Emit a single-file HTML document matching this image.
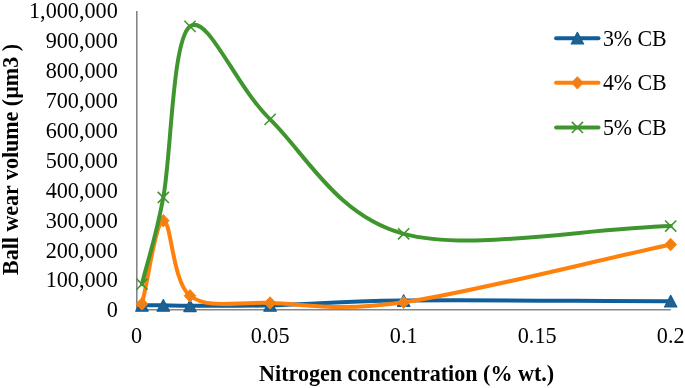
<!DOCTYPE html><html><head><meta charset="utf-8"><title>Chart</title><style>html,body{margin:0;padding:0;background:#fff}svg{display:block}text{font-family:"Liberation Serif",serif;fill:#000}</style></head><body>
<svg width="685" height="388" viewBox="0 0 685 388">
<rect width="685" height="388" fill="#fff"/>
<path d="M136.80,11.00 L136.80,309.80 L670.80,309.80" fill="none" stroke="#858585" stroke-width="1.6"/>
<text transform="translate(117.80,317.00) scale(1,1.070)" font-size="22.20" text-anchor="end">0</text>
<text transform="translate(117.80,287.00) scale(1,1.070)" font-size="22.20" text-anchor="end">100,000</text>
<text transform="translate(117.80,258.00) scale(1,1.070)" font-size="22.20" text-anchor="end">200,000</text>
<text transform="translate(117.80,228.00) scale(1,1.070)" font-size="22.20" text-anchor="end">300,000</text>
<text transform="translate(117.80,198.00) scale(1,1.070)" font-size="22.20" text-anchor="end">400,000</text>
<text transform="translate(117.80,168.00) scale(1,1.070)" font-size="22.20" text-anchor="end">500,000</text>
<text transform="translate(117.80,138.00) scale(1,1.070)" font-size="22.20" text-anchor="end">600,000</text>
<text transform="translate(117.80,108.00) scale(1,1.070)" font-size="22.20" text-anchor="end">700,000</text>
<text transform="translate(117.80,78.00) scale(1,1.070)" font-size="22.20" text-anchor="end">800,000</text>
<text transform="translate(117.80,48.00) scale(1,1.070)" font-size="22.20" text-anchor="end">900,000</text>
<text transform="translate(117.80,18.00) scale(1,1.070)" font-size="22.20" text-anchor="end">1,000,000</text>
<text transform="translate(136.60,343.20) scale(1,1.070)" font-size="22.20" text-anchor="middle">0</text>
<text transform="translate(270.12,343.20) scale(1,1.070)" font-size="22.20" text-anchor="middle">0.05</text>
<text transform="translate(403.65,343.20) scale(1,1.070)" font-size="22.20" text-anchor="middle">0.1</text>
<text transform="translate(537.17,343.20) scale(1,1.070)" font-size="22.20" text-anchor="middle">0.15</text>
<text transform="translate(670.70,343.20) scale(1,1.070)" font-size="22.20" text-anchor="middle">0.2</text>
<text transform="translate(406.60,381.00) scale(1,1.070)" font-size="22.08" text-anchor="middle" font-weight="bold">Nitrogen concentration (% wt.)</text>
<text transform="translate(18.20,159.50) rotate(-90) scale(1,1.040)" font-size="22.00" text-anchor="middle" font-weight="bold">Ball wear volume (µm3 )</text>
<path d="M141.94,305.33 C149.06,305.33 155.29,305.25 163.31,305.33 C169.31,305.38 176.66,305.77 190.01,305.77 C207.81,305.77 234.52,306.20 270.12,305.33 C305.73,304.46 336.89,301.26 403.65,300.56 C470.41,299.86 581.68,300.96 670.70,301.16" fill="none" stroke="#105F9A" stroke-width="4.0" stroke-linecap="round" stroke-linejoin="round"/>
<path d="M141.94,299.53 L148.14,311.13 L135.74,311.13 Z" fill="#24608C" stroke="#105F9A" stroke-width="1.2" stroke-linejoin="round"/>
<path d="M163.31,299.53 L169.50,311.13 L157.11,311.13 Z" fill="#24608C" stroke="#105F9A" stroke-width="1.2" stroke-linejoin="round"/>
<path d="M190.01,299.97 L196.21,311.57 L183.81,311.57 Z" fill="#24608C" stroke="#105F9A" stroke-width="1.2" stroke-linejoin="round"/>
<path d="M270.12,299.53 L276.32,311.13 L263.93,311.13 Z" fill="#24608C" stroke="#105F9A" stroke-width="1.2" stroke-linejoin="round"/>
<path d="M403.65,294.76 L409.85,306.36 L397.45,306.36 Z" fill="#24608C" stroke="#105F9A" stroke-width="1.2" stroke-linejoin="round"/>
<path d="M670.70,295.36 L676.90,306.96 L664.50,306.96 Z" fill="#24608C" stroke="#105F9A" stroke-width="1.2" stroke-linejoin="round"/>
<path d="M141.94,303.84 C149.06,276.12 155.29,222.04 163.31,220.70 C171.32,219.35 172.21,282.08 190.01,295.79 C207.81,309.50 234.52,301.85 270.12,302.94 C305.36,304.03 337.59,311.98 403.65,302.35 C470.41,292.61 581.68,263.81 670.70,244.54" fill="none" stroke="#FF800A" stroke-width="4.0" stroke-linecap="round" stroke-linejoin="round"/>
<path d="M141.94,297.64 L147.74,303.84 L141.94,310.04 L136.14,303.84 Z" fill="#F08014" stroke="#FF800A" stroke-width="1" stroke-linejoin="round"/>
<path d="M163.31,214.50 L169.11,220.70 L163.31,226.90 L157.50,220.70 Z" fill="#F08014" stroke="#FF800A" stroke-width="1" stroke-linejoin="round"/>
<path d="M190.01,289.59 L195.81,295.79 L190.01,301.99 L184.21,295.79 Z" fill="#F08014" stroke="#FF800A" stroke-width="1" stroke-linejoin="round"/>
<path d="M270.12,296.74 L275.93,302.94 L270.12,309.14 L264.32,302.94 Z" fill="#F08014" stroke="#FF800A" stroke-width="1" stroke-linejoin="round"/>
<path d="M403.65,296.15 L409.45,302.35 L403.65,308.55 L397.85,302.35 Z" fill="#F08014" stroke="#FF800A" stroke-width="1" stroke-linejoin="round"/>
<path d="M670.70,238.34 L676.50,244.54 L670.70,250.74 L664.90,244.54 Z" fill="#F08014" stroke="#FF800A" stroke-width="1" stroke-linejoin="round"/>
<path d="M141.94,284.17 C149.06,255.26 155.29,240.41 163.31,197.45 C171.32,154.49 172.21,39.41 190.01,26.40 C207.81,13.39 234.52,84.81 270.12,119.38 C305.73,153.94 336.89,216.03 403.65,233.81 C470.41,251.59 581.68,228.64 670.70,226.06" fill="none" stroke="#40962E" stroke-width="4.0" stroke-linecap="round" stroke-linejoin="round"/>
<path d="M136.34,278.57 L147.54,289.77 M136.34,289.77 L147.54,278.57" fill="none" stroke="#40962E" stroke-width="1.6"/>
<path d="M157.71,191.85 L168.91,203.05 M157.71,203.05 L168.91,191.85" fill="none" stroke="#40962E" stroke-width="1.6"/>
<path d="M184.41,20.80 L195.61,32.00 M184.41,32.00 L195.61,20.80" fill="none" stroke="#40962E" stroke-width="1.6"/>
<path d="M264.52,113.78 L275.73,124.98 M264.52,124.98 L275.73,113.78" fill="none" stroke="#40962E" stroke-width="1.6"/>
<path d="M398.05,228.21 L409.25,239.41 M398.05,239.41 L409.25,228.21" fill="none" stroke="#40962E" stroke-width="1.6"/>
<path d="M665.10,220.46 L676.30,231.66 M665.10,231.66 L676.30,220.46" fill="none" stroke="#40962E" stroke-width="1.6"/>
<path d="M556.1,38.20 L598.5,38.20" stroke="#105F9A" stroke-width="4.0" stroke-linecap="round"/>
<path d="M577.40,32.40 L583.60,44.00 L571.20,44.00 Z" fill="#24608C" stroke="#105F9A" stroke-width="1.2" stroke-linejoin="round"/>
<text transform="translate(602.90,45.50) scale(1,1.070)" font-size="21.90" text-anchor="start">3% CB</text>
<path d="M556.1,82.85 L598.5,82.85" stroke="#FF800A" stroke-width="4.0" stroke-linecap="round"/>
<path d="M577.40,76.65 L583.20,82.85 L577.40,89.05 L571.60,82.85 Z" fill="#F08014" stroke="#FF800A" stroke-width="1" stroke-linejoin="round"/>
<text transform="translate(602.90,89.50) scale(1,1.070)" font-size="21.90" text-anchor="start">4% CB</text>
<path d="M556.1,127.45 L598.5,127.45" stroke="#40962E" stroke-width="4.0" stroke-linecap="round"/>
<path d="M571.80,121.85 L583.00,133.05 M571.80,133.05 L583.00,121.85" fill="none" stroke="#40962E" stroke-width="1.6"/>
<text transform="translate(602.90,135.00) scale(1,1.070)" font-size="21.90" text-anchor="start">5% CB</text>
</svg></body></html>
